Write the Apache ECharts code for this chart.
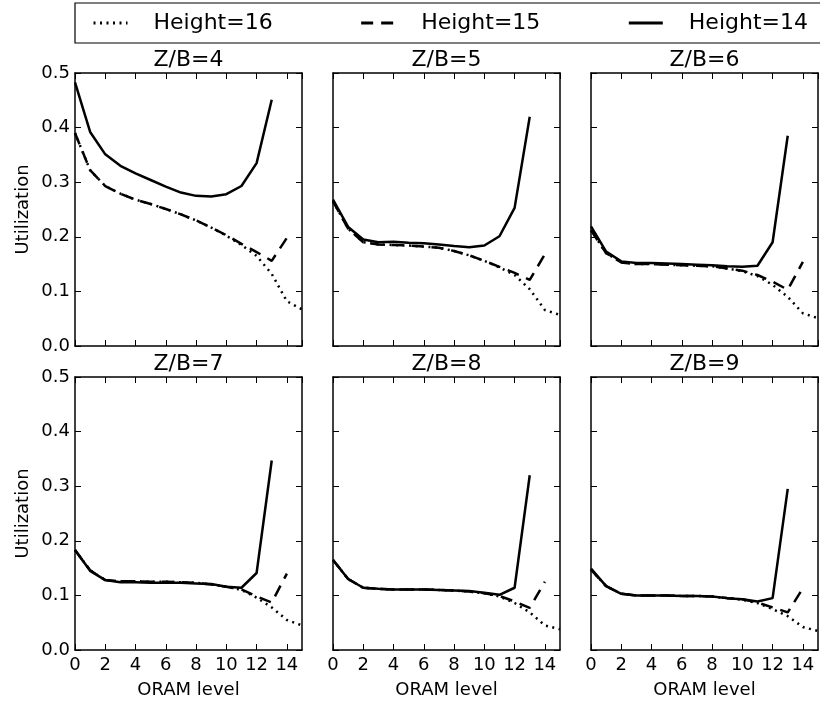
<!DOCTYPE html>
<html><head><meta charset="utf-8">
<script src="https://cdn.jsdelivr.net/npm/echarts@6/dist/echarts.min.js"></script>
<style>html,body{margin:0;padding:0;background:#fff}#c{width:820px;height:704px}</style>
</head><body><div id="c"></div>
<script>
// ---- data ----
const levels = [0, 1, 2, 3, 4, 5, 6, 7, 8, 9, 10, 11, 12, 13, 14, 15];
const seriesNames = ['Height=16', 'Height=15', 'Height=14'];
const panelTitles = ['Z/B=4', 'Z/B=5', 'Z/B=6', 'Z/B=7', 'Z/B=8', 'Z/B=9'];
const xAxisName = 'ORAM level';
const yAxisName = 'Utilization';

const zb4_h16 = [0.390, 0.322, 0.293, 0.279, 0.268, 0.260, 0.251, 0.241, 0.230, 0.217, 0.202, 0.185, 0.165, 0.132, 0.082, 0.067];
const zb4_h15 = [0.390, 0.322, 0.293, 0.279, 0.268, 0.260, 0.251, 0.241, 0.230, 0.217, 0.203, 0.187, 0.172, 0.156, 0.198];
const zb4_h14 = [0.483, 0.392, 0.351, 0.330, 0.316, 0.304, 0.292, 0.281, 0.275, 0.274, 0.278, 0.293, 0.335, 0.451];

const zb5_h16 = [0.265, 0.215, 0.190, 0.186, 0.185, 0.184, 0.182, 0.180, 0.174, 0.166, 0.156, 0.144, 0.130, 0.104, 0.066, 0.057];
const zb5_h15 = [0.265, 0.215, 0.190, 0.186, 0.185, 0.184, 0.182, 0.180, 0.174, 0.166, 0.156, 0.145, 0.134, 0.121, 0.168];
const zb5_h14 = [0.268, 0.218, 0.195, 0.190, 0.191, 0.189, 0.188, 0.186, 0.183, 0.181, 0.184, 0.201, 0.253, 0.420];

const zb6_h16 = [0.212, 0.170, 0.153, 0.150, 0.150, 0.149, 0.148, 0.147, 0.146, 0.142, 0.137, 0.128, 0.112, 0.090, 0.060, 0.051];
const zb6_h15 = [0.212, 0.170, 0.153, 0.150, 0.150, 0.149, 0.148, 0.147, 0.146, 0.142, 0.138, 0.130, 0.118, 0.103, 0.154];
const zb6_h14 = [0.219, 0.173, 0.155, 0.152, 0.152, 0.151, 0.150, 0.149, 0.148, 0.146, 0.145, 0.147, 0.190, 0.385];

const zb7_h16 = [0.183, 0.146, 0.128, 0.126, 0.126, 0.125, 0.125, 0.124, 0.123, 0.120, 0.116, 0.110, 0.096, 0.078, 0.055, 0.045];
const zb7_h15 = [0.183, 0.146, 0.128, 0.126, 0.126, 0.125, 0.125, 0.124, 0.123, 0.120, 0.116, 0.111, 0.098, 0.087, 0.140];
const zb7_h14 = [0.183, 0.145, 0.128, 0.124, 0.124, 0.123, 0.123, 0.123, 0.122, 0.121, 0.116, 0.114, 0.141, 0.347];

const zb8_h16 = [0.165, 0.130, 0.114, 0.112, 0.111, 0.111, 0.111, 0.110, 0.109, 0.107, 0.104, 0.098, 0.086, 0.069, 0.045, 0.038];
const zb8_h15 = [0.165, 0.130, 0.114, 0.112, 0.111, 0.111, 0.111, 0.110, 0.109, 0.107, 0.104, 0.099, 0.089, 0.077, 0.125];
const zb8_h14 = [0.165, 0.130, 0.114, 0.112, 0.111, 0.111, 0.111, 0.110, 0.109, 0.108, 0.105, 0.101, 0.114, 0.320];

const zb9_h16 = [0.147, 0.117, 0.103, 0.100, 0.100, 0.100, 0.099, 0.099, 0.098, 0.095, 0.092, 0.086, 0.075, 0.062, 0.042, 0.035];
const zb9_h15 = [0.147, 0.117, 0.103, 0.100, 0.100, 0.100, 0.099, 0.099, 0.098, 0.095, 0.093, 0.087, 0.078, 0.069, 0.113];
const zb9_h14 = [0.149, 0.117, 0.103, 0.100, 0.100, 0.100, 0.099, 0.099, 0.098, 0.095, 0.093, 0.089, 0.095, 0.295];

// ---- layout / style ----
const FONT = 'DejaVu Sans';
const colLefts = [75, 333, 591];
const rowTops = [73, 377];
const GW = 227, GH = 273;
const lineTypes = [[2, 4.5], [12, 8], 'solid'];

const panels = [
  [zb4_h16, zb4_h15, zb4_h14],
  [zb5_h16, zb5_h15, zb5_h14],
  [zb6_h16, zb6_h15, zb6_h14],
  [zb7_h16, zb7_h15, zb7_h14],
  [zb8_h16, zb8_h15, zb8_h14],
  [zb9_h16, zb9_h15, zb9_h14]
];

const frameLine = { show: true, onZero: false, lineStyle: { color: '#000', width: 1.5 } };
const tick = { show: true, inside: true, length: 6, lineStyle: { color: '#000', width: 1 } };

const grids = [], xAxes = [], yAxes = [], series = [];
panels.forEach((p, i) => {
  const row = Math.floor(i / 3), col = i % 3;
  const bottomRow = row === 1, leftCol = col === 0;
  grids.push({ left: colLefts[col], top: rowTops[row], width: GW, height: GH });
  xAxes.push({
    gridIndex: i, type: 'value', position: 'bottom', min: 0, max: 15, interval: 2,
    axisLine: frameLine, axisTick: tick, splitLine: { show: false },
    axisLabel: { show: bottomRow, margin: 6, color: '#000', fontSize: 18, fontFamily: FONT, showMaxLabel: false },
    name: bottomRow ? xAxisName : '', nameLocation: 'middle', nameGap: 31,
    nameTextStyle: { color: '#000', fontSize: 18, fontFamily: FONT }
  });
  xAxes.push({
    gridIndex: i, type: 'value', position: 'top', min: 0, max: 15, interval: 2,
    axisLine: frameLine, axisTick: tick, splitLine: { show: false },
    axisLabel: { show: false },
    name: panelTitles[i], nameLocation: 'middle', nameGap: 2,
    nameTextStyle: { color: '#000', fontSize: 22, fontFamily: FONT }
  });
  yAxes.push({
    gridIndex: i, type: 'value', position: 'left', min: 0, max: 0.5, interval: 0.1,
    axisLine: frameLine, axisTick: tick, splitLine: { show: false },
    axisLabel: { show: leftCol, margin: 5, color: '#000', fontSize: 18, fontFamily: FONT,
      formatter: v => v.toFixed(1) },
    name: leftCol ? yAxisName : '', nameLocation: 'middle', nameGap: 43,
    nameTextStyle: { color: '#000', fontSize: 18, fontFamily: FONT }
  });
  yAxes.push({
    gridIndex: i, type: 'value', position: 'right', min: 0, max: 0.5, interval: 0.1,
    axisLine: frameLine, axisTick: tick, splitLine: { show: false },
    axisLabel: { show: false }
  });
  p.forEach((vals, k) => {
    series.push({
      type: 'line', name: seriesNames[k],
      xAxisIndex: 2 * i, yAxisIndex: 2 * i,
      data: vals.map((v, j) => [levels[j], v]),
      symbol: 'none', silent: true,
      itemStyle: { color: '#000' },
      lineStyle: { color: '#000', width: 2.5, type: lineTypes[k], cap: 'butt' }
    });
  });
});

const chart = echarts.init(document.getElementById('c'), null, { renderer: 'canvas' });
chart.setOption({
  backgroundColor: '#fff',
  animation: false,
  legend: {
    data: seriesNames,
    left: 75, top: 3, width: 760,
    padding: [9, 40, 9, 17],
    itemWidth: 34, itemHeight: 14, itemGap: 87,
    borderColor: '#000', borderWidth: 1.2, borderRadius: 0,
    selectedMode: false,
    itemStyle: { opacity: 0, borderWidth: 0 },
    lineStyle: { width: 3 },
    textStyle: { color: '#000', fontSize: 22, fontFamily: FONT, lineHeight: 22, padding: [0, 0, 0, 21] }
  },
  grid: grids,
  xAxis: xAxes,
  yAxis: yAxes,
  series: series
});
</script>
</body></html>
